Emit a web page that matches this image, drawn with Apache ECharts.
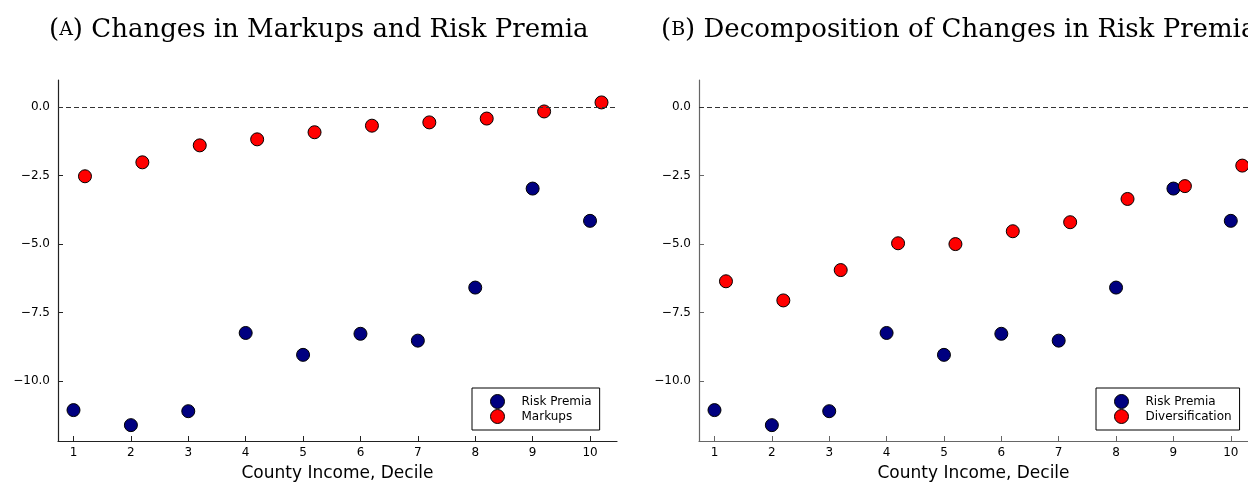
<!DOCTYPE html>
<html>
<head>
<meta charset="utf-8">
<script src="https://cdn.jsdelivr.net/npm/echarts@6/dist/echarts.min.js"></script>
<style>
  html, body { margin: 0; padding: 0; background: #fff; }
  #main { width: 1248px; height: 483px; }
</style>
</head>
<body>
<div id="main"></div>
<script>
// deciles on the x axis
var deciles = [1, 2, 3, 4, 5, 6, 7, 8, 9, 10];
var xTicks = [1, 2, 3, 4, 5, 6, 7, 8, 9, 10];
var yTicks = [-10, -7.5, -5, -2.5, 0];

// values
var riskPremia = [-11.07, -11.62, -11.11, -8.25, -9.05, -8.28, -8.53, -6.59, -2.97, -4.15];
var markups = [-2.52, -2.01, -1.39, -1.17, -0.91, -0.67, -0.55, -0.41, -0.15, 0.18];
var diversification = [-6.36, -7.06, -5.95, -4.97, -5.0, -4.53, -4.2, -3.35, -2.88, -2.13];

// red dots sit a bit to the right of the decile
var shift = 0.2;

function pts(vals, dx) {
  return vals.map(function (v, i) { return [deciles[i] + dx, v]; });
}

var myChart = echarts.init(document.getElementById('main'));

var sans = 'DejaVu Sans';
function minus(v) {
  return v.toFixed(1).replace('-', '\u2212');
}

function xAx(idx, col) {
  return {
    type: 'value', gridIndex: idx, min: 0.73, max: idx === 0 ? 10.47 : 10.3,
    name: 'County Income, Decile', nameLocation: 'middle', nameGap: 24,
    nameTextStyle: { fontFamily: sans, fontSize: 17, color: '#000' },
    axisLine: { show: true, onZero: false, lineStyle: { color: col, width: 1.2 } },
    axisTick: { show: true, inside: true, length: 5, customValues: xTicks, lineStyle: { color: col } },
    axisLabel: { customValues: xTicks, margin: 6, fontFamily: sans, fontSize: 12, color: '#000' },
    splitLine: { show: false }
  };
}

function yAx(idx, col) {
  return {
    type: 'value', gridIndex: idx, min: -12.2, max: 1,
    axisLine: { show: true, onZero: false, lineStyle: { color: col, width: 1.2 } },
    axisTick: { show: true, inside: true, length: 5, customValues: yTicks, lineStyle: { color: col } },
    axisLabel: { customValues: yTicks, margin: 8, fontFamily: sans, fontSize: 12, color: '#000',
      formatter: minus },
    splitLine: { show: false }
  };
}

function dots(name, data, color, idx, zeroLine) {
  var s = {
    name: name, type: 'scatter', xAxisIndex: idx, yAxisIndex: idx,
    data: data, symbolSize: 13,
    itemStyle: { color: color, borderColor: '#000', borderWidth: 1, opacity: 1 }
  };
  if (zeroLine) {
    s.markLine = {
      silent: true, symbol: 'none', label: { show: false },
      lineStyle: { color: '#333', type: [5, 3], width: 1 },
      data: [{ yAxis: 0 }]
    };
  }
  return s;
}

function titleRich(letter, rest) {
  return {
    text: '{p|(}{sc|' + letter + '}{p|) ' + rest + '}',
    textStyle: {
      fontWeight: 'normal',
      rich: {
        p: { fontFamily: 'DejaVu Serif', fontSize: 26, fontWeight: 'normal', color: '#000' },
        sc: { fontFamily: 'DejaVu Serif', fontSize: 19, fontWeight: 'normal', color: '#000' }
      }
    }
  };
}

var tA = titleRich('A', 'Changes in Markups and Risk Premia');
tA.left = 44; tA.top = 12;
var tB = titleRich('B', 'Decomposition of Changes in Risk Premia');
tB.left = 656; tB.top = 12;

function legendBox(left, names, padRight) {
  return {
    orient: 'vertical', left: left, top: 388,
    data: names, icon: 'circle', itemWidth: 14, itemHeight: 14, itemGap: 0,
    padding: [6, padRight, 6, 18],
    borderColor: '#000', borderWidth: 1,
    textStyle: { fontFamily: sans, fontSize: 12, color: '#000', padding: [0, 0, 0, 12] },
    itemStyle: { borderColor: '#000', borderWidth: 1 },
    selectedMode: false
  };
}

var option = {
  backgroundColor: '#fff',
  animation: false,
  title: [tA, tB],
  legend: [
    legendBox(472, ['Risk Premia', 'Markups'], 8),
    legendBox(1096, ['Risk Premia', 'Diversification'], 8)
  ],
  grid: [
    { left: 58, top: 80, width: 559, height: 361, outerBoundsMode: 'none' },
    { left: 699, top: 80, width: 549, height: 361, outerBoundsMode: 'none' }
  ],
  xAxis: [xAx(0, '#222'), xAx(1, '#666')],
  yAxis: [yAx(0, '#222'), yAx(1, '#666')],
  series: [
    dots('Risk Premia', pts(riskPremia, 0), '#000080', 0, true),
    dots('Markups', pts(markups, shift), '#ff0000', 0, false),
    dots('Risk Premia', pts(riskPremia, 0), '#000080', 1, true),
    dots('Diversification', pts(diversification, shift), '#ff0000', 1, false)
  ]
};

myChart.setOption(option);
</script>
</body>
</html>
